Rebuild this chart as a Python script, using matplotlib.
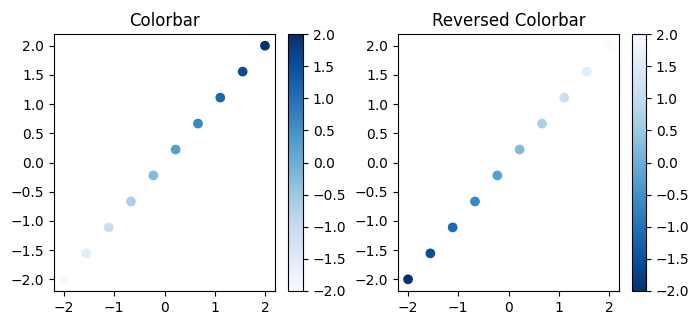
import matplotlib
matplotlib.use("Agg")
import matplotlib.pyplot as plt

# ten evenly spaced points on the diagonal, colour = value
x_vals = [-2.0, -1.556, -1.111, -0.667, -0.222, 0.222, 0.667, 1.111, 1.556, 2.0]
y_vals = [-2.0, -1.556, -1.111, -0.667, -0.222, 0.222, 0.667, 1.111, 1.556, 2.0]
c_vals = [-2.0, -1.556, -1.111, -0.667, -0.222, 0.222, 0.667, 1.111, 1.556, 2.0]

titles = ["Colorbar", "Reversed Colorbar"]
cmaps = ["Blues", "Blues_r"]

W, H = 700, 327
fig = plt.figure(figsize=(W / 100, H / 100), dpi=100)

# pixel boxes (left, right) for each panel and its colorbar
ax_boxes = [(54, 275), (398, 619)]
cb_boxes = [(288, 303), (632, 646)]
top, bottom = 34, 291

def box(l, r):
    return [l / W, (H - bottom) / H, (r - l) / W, (bottom - top) / H]

for (al, ar), (cl, cr), title, cmap in zip(ax_boxes, cb_boxes, titles, cmaps):
    ax = fig.add_axes(box(al, ar))
    cax = fig.add_axes(box(cl, cr))
    sc = ax.scatter(x_vals, y_vals, c=c_vals, cmap=cmap)
    ax.set_title(title)
    fig.colorbar(sc, cax=cax)

plt.savefig("out.png")
